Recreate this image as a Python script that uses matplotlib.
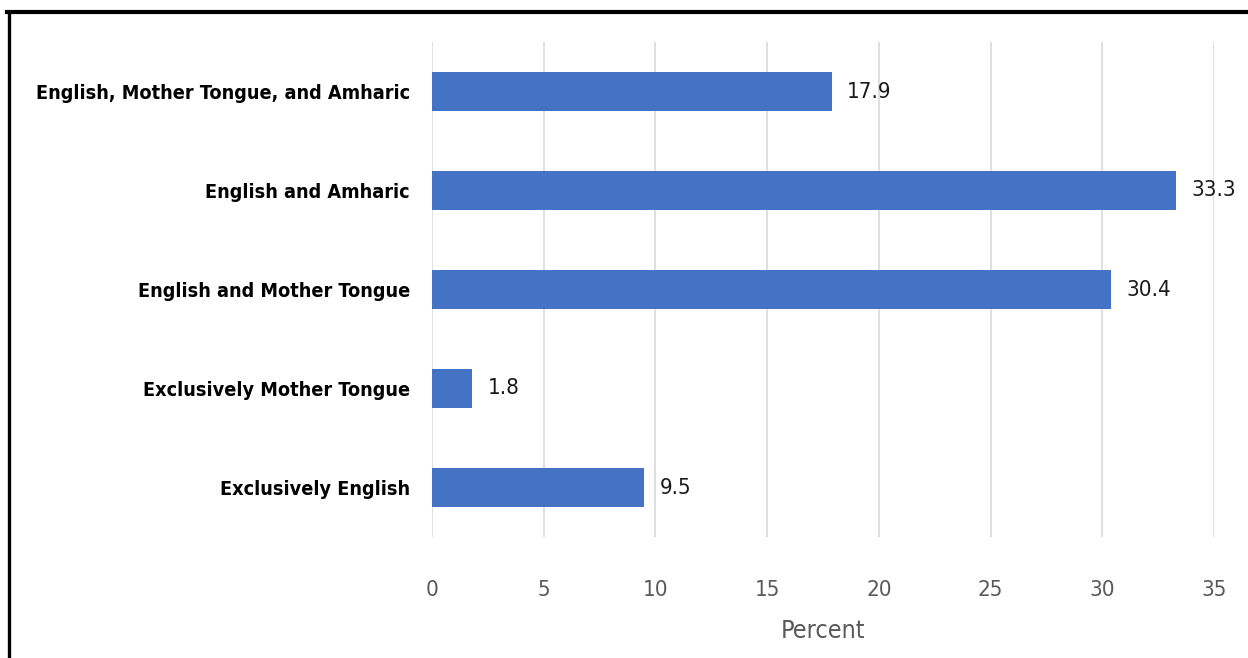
import matplotlib
matplotlib.use("Agg")
import matplotlib.pyplot as plt
from matplotlib.lines import Line2D

categories = [
    "English, Mother Tongue, and Amharic",
    "English and Amharic",
    "English and Mother Tongue",
    "Exclusively Mother Tongue",
    "Exclusively English",
]
values = [17.9, 33.3, 30.4, 1.8, 9.5]
xticks = [0, 5, 10, 15, 20, 25, 30, 35]
xlabel = "Percent"

plt.rcParams["font.family"] = ["DejaVu Sans"]
plt.rcParams["font.stretch"] = "condensed"

W, H = 1248, 658
fig = plt.figure(figsize=(W / 100, H / 100), dpi=100)
fig.patch.set_facecolor("white")

left, right, top, bottom = 432, 1214, 42, 537
ax = fig.add_axes([left / W, (H - bottom) / H, (right - left) / W, (bottom - top) / H])

n = len(categories)
ypos = list(range(n - 1, -1, -1))
ax.barh(ypos, values, height=0.4, color="#4472C4", zorder=3)

for y, v in zip(ypos, values):
    ax.annotate(f"{v}", xy=(v, y), xytext=(11, 0), textcoords="offset points",
                ha="left", va="center", fontsize=16, color="#1a1a1a")

ax.set_xlim(0, 35)
ax.set_ylim(-0.5, n - 0.5)
ax.set_xticks(xticks)
ax.set_xticklabels([str(t) for t in xticks])
ax.set_yticks(ypos)
ax.set_yticklabels(categories, fontsize=14.2, fontweight="bold", color="black")

ax.tick_params(axis="x", length=0, pad=31, labelsize=16, labelcolor="#595959")
ax.tick_params(axis="y", length=0, pad=16)

ax.grid(axis="x", color="#D9D9D9", linewidth=1.2, zorder=0)
ax.grid(axis="y", visible=False)
for s in ax.spines.values():
    s.set_visible(False)

ax.set_xlabel(xlabel, fontsize=18, color="#595959")
ax.xaxis.set_label_coords(0.5, -0.19)
ax.xaxis.label.set_va("center")

# frame lines along the top and left edges of the figure
fig.add_artist(Line2D([8.5 / W, 8.5 / W], [0, (H - 12) / H], color="black",
                      linewidth=2.4, transform=fig.transFigure))
fig.add_artist(Line2D([7 / W, 1], [(H - 12) / H, (H - 12) / H], color="black",
                      linewidth=3.0, transform=fig.transFigure))

fig.savefig("out.png", dpi=100, facecolor="white")
